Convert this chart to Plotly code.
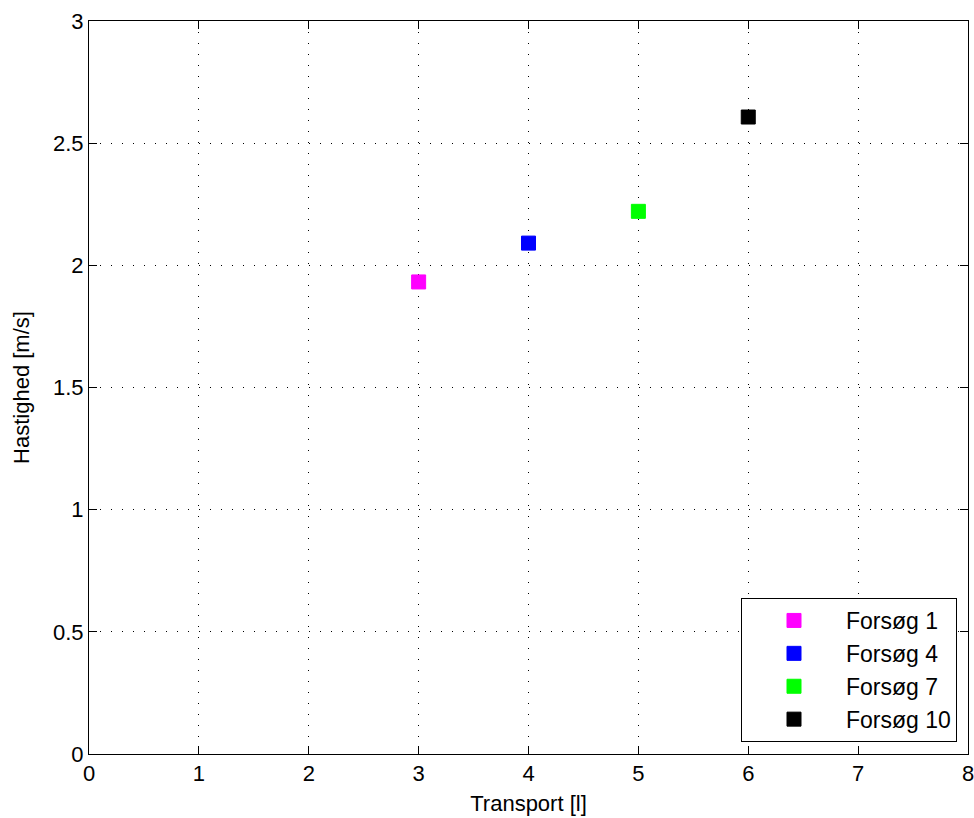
import plotly.graph_objects as go

# Measured speed per trial
trials = ["Forsøg 1", "Forsøg 4", "Forsøg 7", "Forsøg 10"]
transport = [3, 4, 5, 6]
speed = [1.932, 2.091, 2.221, 2.607]
colors = ["#ff00ff", "#0000ff", "#00ff00", "#000000"]

x_ticks = [0, 1, 2, 3, 4, 5, 6, 7, 8]
y_ticks = [0, 0.5, 1, 1.5, 2, 2.5, 3]
y_tick_text = ["0", "0.5", "1", "1.5", "2", "2.5", "3"]

W, H = 974, 818
L, R, T, B = 89, 6, 21, 64

fig = go.Figure()
for name, xv, yv, c in zip(trials, transport, speed, colors):
    fig.add_trace(go.Scatter(
        x=[xv], y=[yv], mode="markers", name=name,
        marker=dict(symbol="square", size=14, color=c,
                    line=dict(width=1, color=c)),
    ))

font = dict(family="Liberation Sans, Arial, sans-serif", size=22, color="black")
legend_font = dict(family="Liberation Sans, Arial, sans-serif", size=23, color="black")
axis_common = dict(
    showline=True, linecolor="black", linewidth=1, mirror="allticks",
    ticks="inside", ticklen=8, tickwidth=1, tickcolor="black",
    showgrid=True, gridcolor="black", gridwidth=1, griddash="1px,10px",
    zeroline=False, tickfont=font, ticklabeloverflow="allow", automargin=False,
)
fig.update_xaxes(range=[0, 8], tickvals=x_ticks, ticktext=[str(v) for v in x_ticks],
                 title=dict(text="Transport [l]", font=font, standoff=10), **axis_common)
fig.update_yaxes(range=[0, 3], tickvals=y_ticks, ticktext=y_tick_text,
                 title=dict(text="Hastighed [m/s]", font=font, standoff=17), **axis_common)

plot_w = W - L - R
plot_h = H - T - B
fig.update_layout(
    width=W, height=H,
    margin=dict(l=L, r=R, t=T, b=B, autoexpand=False),
    paper_bgcolor="white", plot_bgcolor="white",
    font=font,
    showlegend=True,
    legend=dict(
        x=1 - 11 / plot_w, y=12 / plot_h, xanchor="right", yanchor="bottom",
        bordercolor="black", borderwidth=1, bgcolor="white",
        font=legend_font, itemwidth=94,
    ),
)

fig.write_html("out.html")
